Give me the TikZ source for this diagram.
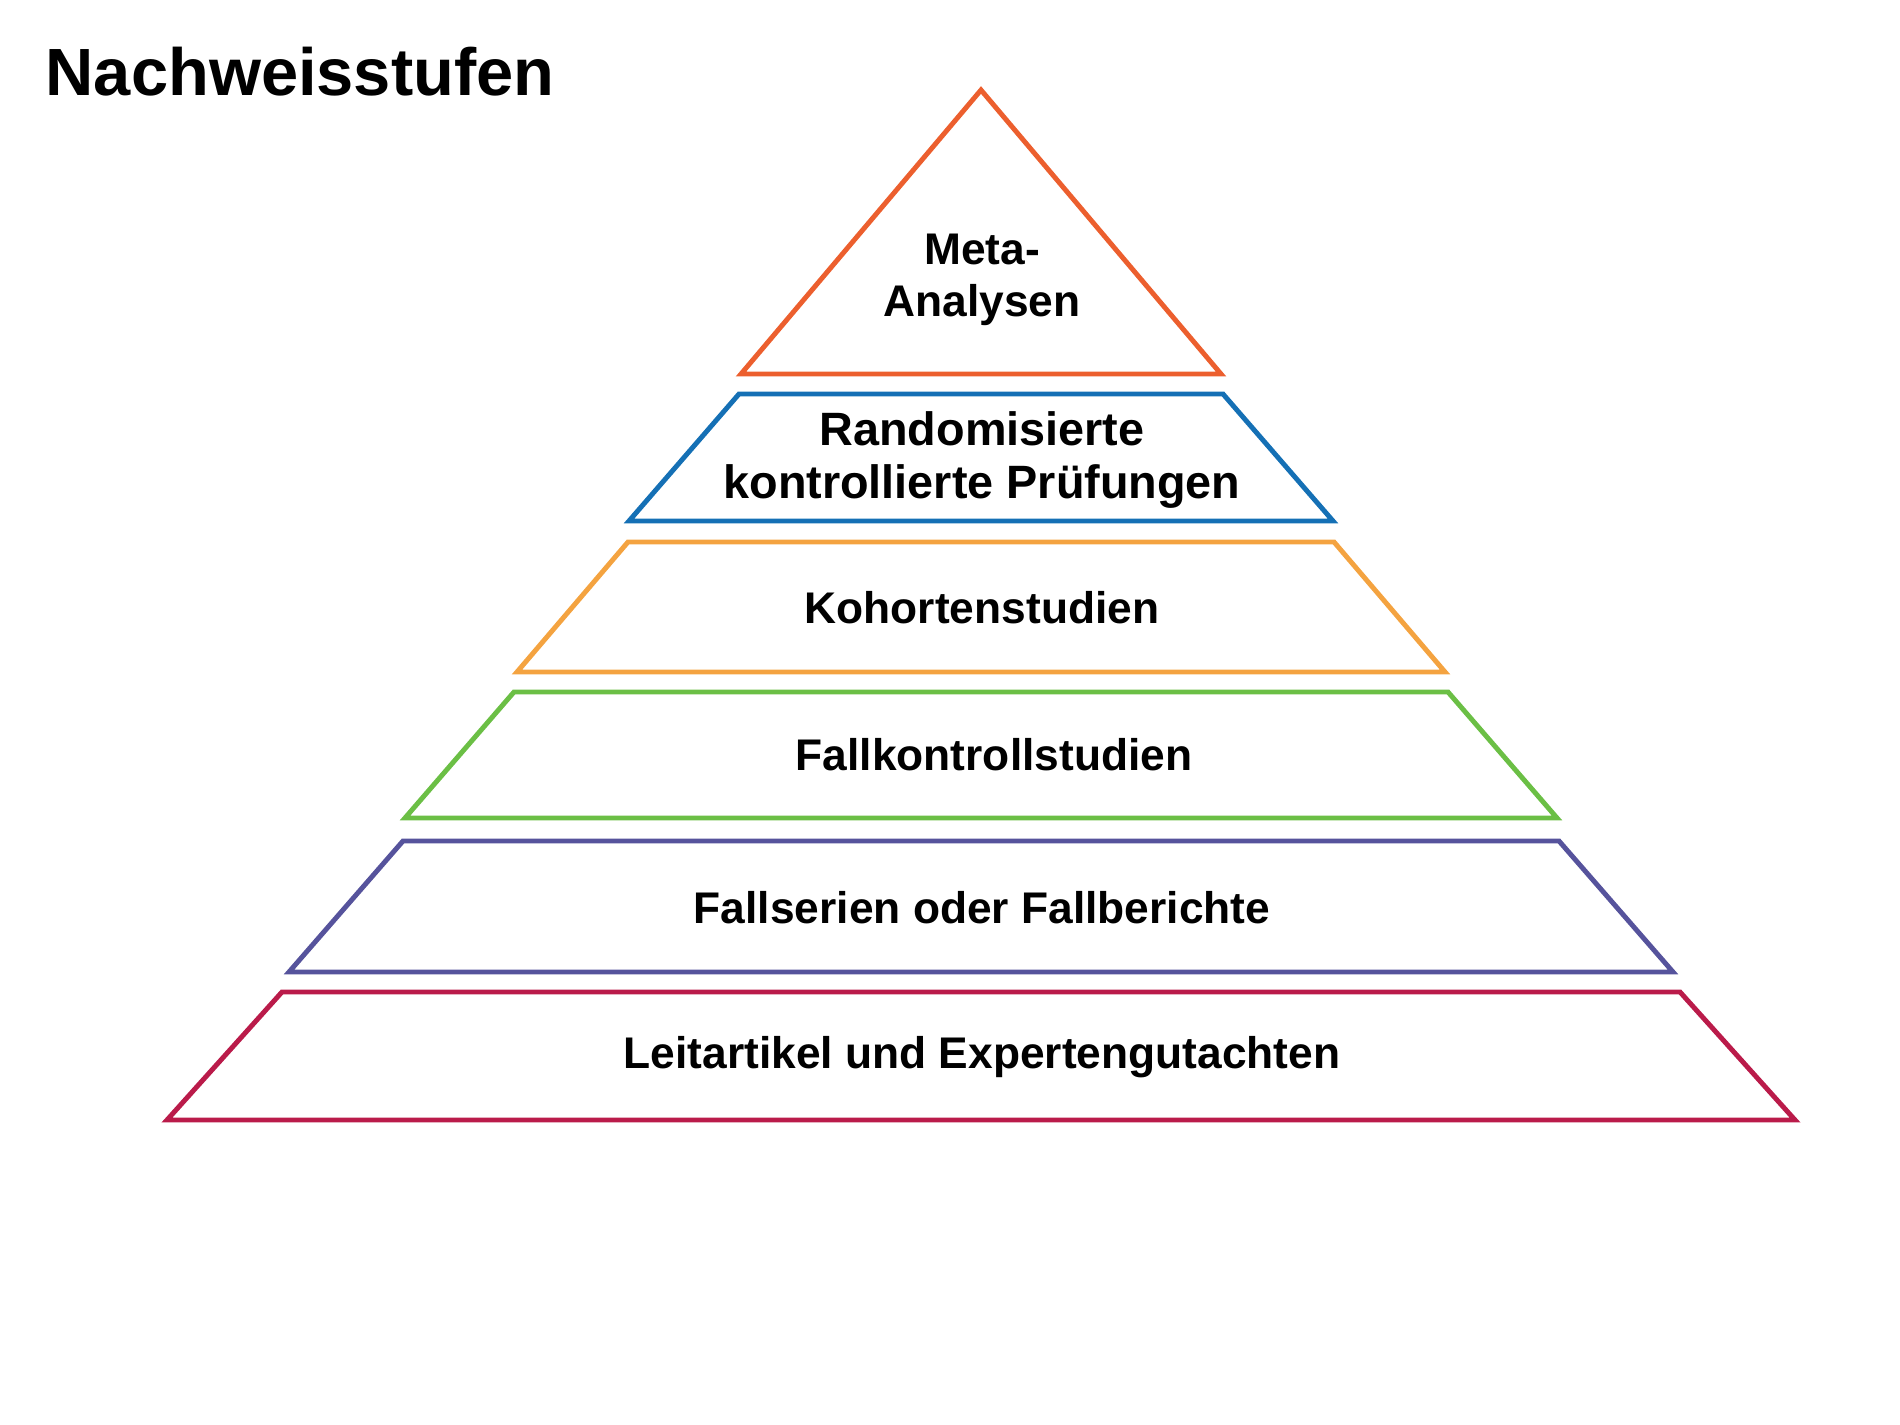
\documentclass[tikz,border=0pt]{standalone}
\usepackage{fontspec}
\setmainfont{Liberation Sans}
\usetikzlibrary{positioning}

\definecolor{metaorange}{HTML}{EC5F2E}
\definecolor{rctblue}{HTML}{1570B5}
\definecolor{kohorange}{HTML}{F4A340}
\definecolor{fallgreen}{HTML}{6BBF45}
\definecolor{serienpurple}{HTML}{56539C}
\definecolor{leitred}{HTML}{BA1B4A}

\tikzset{
	stufe/.style={line width=1.4pt, line join=miter},
	stufentext/.style={font=\bfseries\fontsize{12.6}{14.8}\selectfont, align=center, inner sep=0pt},
}

\begin{document}
\begin{tikzpicture}[x=0.01cm, y=-0.01cm, on grid]
	\useasboundingbox (0,0) rectangle (1900,1425);
	
	\node[anchor=base west, inner sep=0pt, font=\bfseries\fontsize{19}{22}\selectfont] (titel) at (45,96) {Nachweisstufen};
	
	% Spitze
	\draw[stufe, draw=metaorange] (981,90) -- (1221,374) -- (741,374) -- cycle;
	% Stufen: oben/unten, halbe Breite oben/unten, Farbe
	\foreach \oben/\unten/\ob/\ub/\farbe in {394/521/242/352/rctblue, 542/672/353/464/kohorange, 692/818/467/576/fallgreen, 841/972/578/692/serienpurple, 992/1120/699/814/leitred}{
		\draw[stufe, draw=\farbe] (981-\ob,\oben) -- (981+\ob,\oben) -- (981+\ub,\unten) -- (981-\ub,\unten) -- cycle;
	}
	
	\node[stufentext] 											(meta) 		at (982,280) 	{Meta-\\Analysen};
	\node[stufentext, font=\bfseries\fontsize{13.3}{15.2}\selectfont] 	(rct) 	at (982,460) 	{Randomisierte\\kontrollierte Prüfungen};
	\node[stufentext, below=1.48cm of rct]						(kohorte) 				{Kohortenstudien};
	\node[stufentext, below=1.46cm of kohorte, xshift=0.12cm]	(fallkontrolle) 		{Fallkontrollstudien};
	\node[stufentext, below=1.53cm of fallkontrolle, xshift=-0.12cm]	(fallserien) 	{Fallserien oder Fallberichte};
	\node[stufentext, below=1.50cm of fallserien]				(leitartikel) 			{Leitartikel und Expertengutachten};
\end{tikzpicture}
\end{document}
